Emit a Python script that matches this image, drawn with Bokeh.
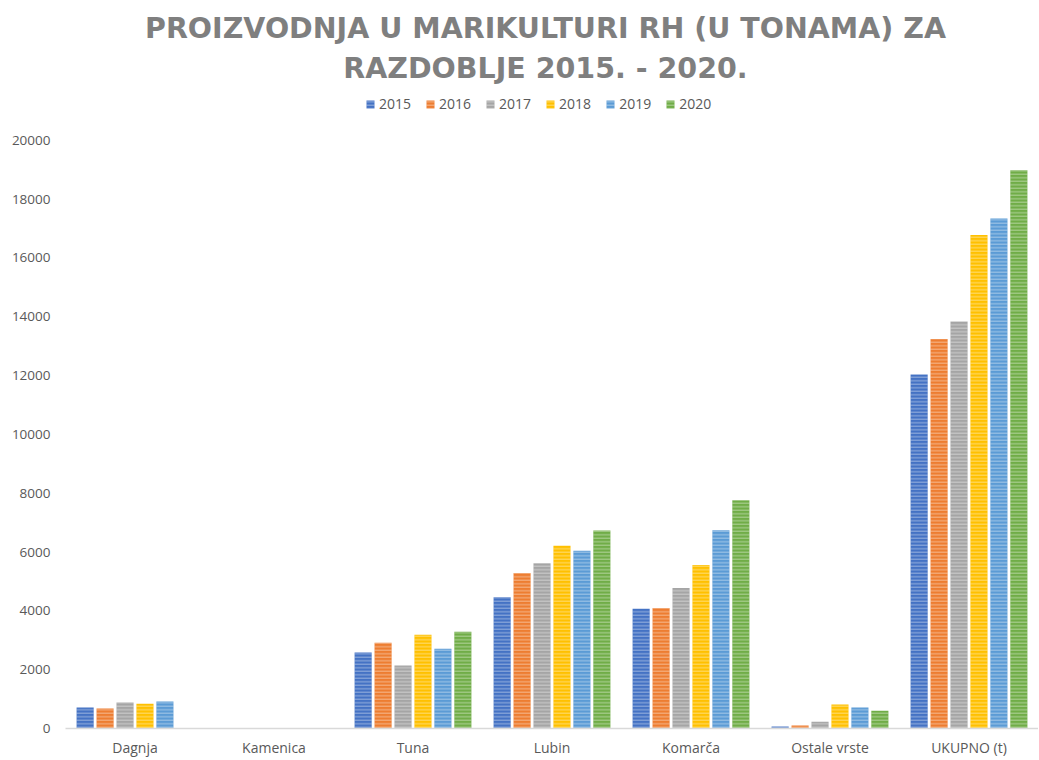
from bokeh.plotting import figure
from bokeh.models import FactorRange, Range1d, Label, Legend, LegendItem, ColumnDataSource, FixedTicker
from bokeh.transform import dodge
from bokeh.embed import file_html
from bokeh.resources import INLINE

categories = ["Dagnja", "Kamenica", "Tuna", "Lubin", "Komarča", "Ostale vrste", "UKUPNO (t)"]
years = ["2015", "2016", "2017", "2018", "2019", "2020"]
v2015 = [712, 0, 2580, 4465, 4070, 68, 12035]
v2016 = [680, 0, 2915, 5290, 4100, 100, 13240]
v2017 = [880, 0, 2140, 5615, 4780, 226, 13840]
v2018 = [840, 0, 3190, 6215, 5560, 815, 16780]
v2019 = [915, 0, 2710, 6045, 6745, 712, 17345]
v2020 = [0, 0, 3290, 6735, 7765, 600, 18985]
series = [v2015, v2016, v2017, v2018, v2019, v2020]
colors = ["#4472C4", "#ED7D31", "#A5A5A5", "#FFC000", "#5B9BD5", "#70AD47"]
y_ticks = [0, 2000, 4000, 6000, 8000, 10000, 12000, 14000, 16000, 18000, 20000]
title_lines = ["PROIZVODNJA U MARIKULTURI RH (U TONAMA) ZA", "RAZDOBLJE 2015. - 2020."]

FONT = "Open Sans"
TXT = "#595959"

W, H = 1038, 759
FRAME_BOTTOM = 729          # expected frame bottom (px)
TOP20K = 140                # where 20000 sits (px)
ymax = 20000 * FRAME_BOTTOM / (FRAME_BOTTOM - TOP20K)

def px_to_data(py):
    return (FRAME_BOTTOM - py) / (FRAME_BOTTOM - TOP20K) * 20000

p = figure(width=W, height=H, x_range=FactorRange(*categories), y_range=Range1d(0, ymax),
           output_backend="svg", toolbar_location=None,
           min_border_left=65, min_border_right=0, min_border_top=0, min_border_bottom=0)
p.outline_line_color = None
p.xgrid.grid_line_color = None
p.ygrid.grid_line_color = None
p.background_fill_color = "white"
p.border_fill_color = "white"

data = {"cat": categories}
for y, s in zip(years, series):
    data["y" + y] = s
src = ColumnDataSource(data)

step = 0.1435
items = []
for i, (y, c) in enumerate(zip(years, colors)):
    r = p.vbar(x=dodge("cat", (i - 2.5) * step, range=p.x_range), top="y" + y, width=0.123,
               source=src, fill_color=c, line_color=None,
               hatch_pattern="horizontal_line", hatch_color="white", hatch_alpha=0.45,
               hatch_scale=3.5, hatch_weight=1)
    items.append(LegendItem(label=y, renderers=[r]))

legend = Legend(items=items, orientation="horizontal",
                location=(300, FRAME_BOTTOM - 104 - 10),
                label_text_font=FONT, label_text_font_size="14px", label_text_color=TXT,
                glyph_width=10, glyph_height=10, spacing=14, label_standoff=4,
                background_fill_alpha=0, border_line_color=None, padding=0, margin=0)
p.add_layout(legend, "center")

p.xaxis.axis_line_color = "#D9D9D9"
p.xaxis.axis_line_width = 1.5
p.xaxis.major_tick_line_color = None
p.xaxis.major_tick_out = 0
p.xaxis.major_tick_in = 0
p.xaxis.minor_tick_line_color = None
p.xaxis.major_label_text_font = FONT
p.xaxis.major_label_text_font_size = "14px"
p.xaxis.major_label_text_color = TXT
p.xaxis.major_label_standoff = 9

p.yaxis.ticker = FixedTicker(ticks=y_ticks)
p.yaxis.axis_line_color = None
p.yaxis.major_tick_line_color = None
p.yaxis.major_tick_out = 0
p.yaxis.major_tick_in = 0
p.yaxis.minor_tick_line_color = None
p.yaxis.major_label_text_font = FONT
p.yaxis.major_label_text_font_size = "13.5px"
p.yaxis.major_label_text_color = TXT
p.yaxis.major_label_standoff = 15

for txt, py in zip(title_lines, [28, 68]):
    p.add_layout(Label(x=3.453, y=px_to_data(py), text=txt,
                       text_font="DejaVu Sans", text_font_size="28.5px", text_font_style="bold",
                       text_color="#7F7F7F", text_align="center", text_baseline="middle"))

open("out.html", "w").write(file_html(p, INLINE))
